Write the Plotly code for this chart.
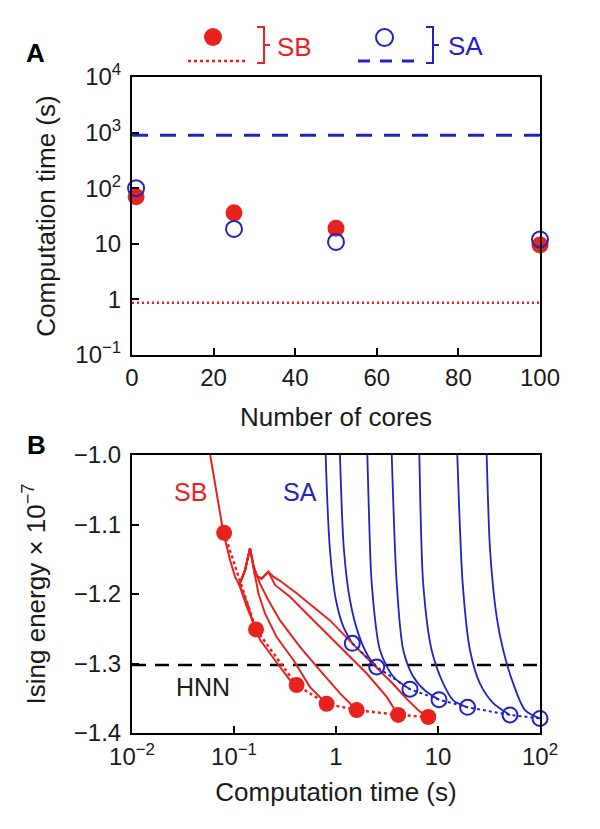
import plotly.graph_objects as go

# ---------------- Panel A data ----------------
cores = [1, 25, 50, 100]
sb_time = [70, 36, 19, 9.5]
sa_time = [100, 18.5, 10.8, 12]
sb_single_ref = 0.87      # dotted red level
sa_single_ref = 900       # dashed blue level
cores_span = [0, 100]

a_yvals = [0.1, 1, 10, 100, 1000, 10000]
a_ytext = ["10<sup>−1</sup>", "1", "10", "10<sup>2</sup>", "10<sup>3</sup>", "10<sup>4</sup>"]
a_xvals = [0, 20, 40, 60, 80, 100]

# ---------------- Panel B data ----------------
sb_dot_t = [0.080, 0.1644, 0.411, 0.809, 1.596, 4.07, 8.04]
sb_dot_e = [-1.112, -1.251, -1.331, -1.358, -1.367, -1.374, -1.377]

sa_dot_t = [1.445, 2.506, 5.31, 10.23, 19.5, 50.8, 100]
sa_dot_e = [-1.271, -1.305, -1.337, -1.352, -1.363, -1.374, -1.379]

hnn_level = -1.302
time_span = [0.01, 100]

# SB trunk (common early evolution)
sb_trunk_t = [0.0550, 0.0573, 0.0787, 0.0914, 0.1023, 0.1127]
sb_trunk_e = [-0.975, -0.993, -1.112, -1.151, -1.175, -1.187]

sb_curve2_t = [0.1127, 0.133, 0.1644]
sb_curve2_e = [-1.187, -1.218, -1.251]

sb_curve3_t = [0.1127, 0.1236, 0.1384, 0.1545, 0.1799, 0.2254, 0.2825, 0.354, 0.411]
sb_curve3_e = [-1.187, -1.199, -1.218, -1.242, -1.266, -1.286, -1.305, -1.324, -1.331]

sb_curve4_t = [0.1127, 0.1282, 0.1435, 0.157, 0.1734, 0.2014, 0.2618, 0.382, 0.556, 0.809]
sb_curve4_e = [-1.187, -1.166, -1.134, -1.166, -1.199, -1.228, -1.262, -1.295, -1.334, -1.358]

sb_curve5_t = [0.1127, 0.1282, 0.1435, 0.157, 0.1799, 0.2173, 0.2825, 0.4436, 0.6966, 1.094, 1.596]
sb_curve5_e = [-1.187, -1.166, -1.134, -1.161, -1.185, -1.209, -1.238, -1.276, -1.310, -1.343, -1.367]

sb_curve6_t = [0.1127, 0.1282, 0.1435, 0.1607, 0.1866, 0.2173, 0.2523, 0.354, 0.515, 0.809, 1.274, 1.995, 3.14, 4.07]
sb_curve6_e = [-1.187, -1.166, -1.134, -1.173, -1.178, -1.168, -1.187, -1.204, -1.228, -1.257, -1.286, -1.314, -1.348, -1.374]

sb_curve7_t = [0.1127, 0.1282, 0.1435, 0.1607, 0.1866, 0.2173, 0.243, 0.2825, 0.411, 0.60, 0.873, 1.445, 2.506, 3.55, 5.01, 6.61, 8.04]
sb_curve7_e = [-1.187, -1.166, -1.134, -1.173, -1.178, -1.168, -1.175, -1.181, -1.199, -1.218, -1.238, -1.271, -1.305, -1.328, -1.352, -1.369, -1.377]

sb_curves = [
    (sb_trunk_t, sb_trunk_e), (sb_curve2_t, sb_curve2_e), (sb_curve3_t, sb_curve3_e),
    (sb_curve4_t, sb_curve4_e), (sb_curve5_t, sb_curve5_e), (sb_curve6_t, sb_curve6_e),
    (sb_curve7_t, sb_curve7_e),
]

# SA curves
sa_curve1_t = [0.785, 0.792, 0.873, 1.0, 1.18, 1.445]
sa_curve1_e = [-0.97, -1.0, -1.137, -1.209, -1.247, -1.271]
sa_curve2_t = [1.085, 1.094, 1.197, 1.371, 1.656, 2.075, 2.506]
sa_curve2_e = [-0.97, -1.0, -1.137, -1.209, -1.257, -1.290, -1.305]
sa_curve3_t = [2.01, 2.03, 2.11, 2.24, 2.70, 3.65, 5.31]
sa_curve3_e = [-0.97, -1.0, -1.09, -1.185, -1.281, -1.319, -1.337]
sa_curve4_t = [3.48, 3.52, 3.94, 4.57, 5.73, 7.6, 10.23]
sa_curve4_e = [-0.97, -1.0, -1.185, -1.281, -1.319, -1.340, -1.352]
sa_curve5_t = [6.48, 6.56, 7.16, 8.67, 11.27, 14.1, 19.5]
sa_curve5_e = [-0.97, -1.0, -1.185, -1.281, -1.329, -1.353, -1.363]
sa_curve6_t = [15.2, 15.45, 17.46, 20.6, 25.8, 34.8, 50.8]
sa_curve6_e = [-0.97, -1.0, -1.185, -1.281, -1.329, -1.357, -1.374]
sa_curve7_t = [29.6, 30.0, 32.4, 37.6, 43.6, 54.7, 71.3, 100]
sa_curve7_e = [-0.97, -1.0, -1.137, -1.233, -1.281, -1.329, -1.367, -1.379]

sa_curves = [
    (sa_curve1_t, sa_curve1_e), (sa_curve2_t, sa_curve2_e), (sa_curve3_t, sa_curve3_e),
    (sa_curve4_t, sa_curve4_e), (sa_curve5_t, sa_curve5_e), (sa_curve6_t, sa_curve6_e),
    (sa_curve7_t, sa_curve7_e),
]

b_xvals = [0.01, 0.1, 1, 10, 100]
b_xtext = ["10<sup>−2</sup>", "10<sup>−1</sup>", "1", "10", "10<sup>2</sup>"]
b_yvals = [-1.4, -1.3, -1.2, -1.1, -1.0]
b_ytext = ["−1.4", "−1.3", "−1.2", "−1.1", "−1.0"]

RED = "#e8231e"
BLUE = "#1f23c4"
INK = "#1a1a1a"
FONT = "Liberation Sans, Arial, sans-serif"
TICK_SIZE = 24
TITLE_SIZE = 26

fig = go.Figure()

# ---- Panel A traces ----
fig.add_trace(go.Scatter(x=cores_span, y=[sa_single_ref] * 2, mode="lines",
                         line=dict(color=BLUE, width=3, dash="16px,12px"),
                         xaxis="x", yaxis="y", showlegend=False))
fig.add_trace(go.Scatter(x=cores_span, y=[sb_single_ref] * 2, mode="lines",
                         line=dict(color=RED, width=2.5, dash="2px,3px"),
                         xaxis="x", yaxis="y", showlegend=False))
fig.add_trace(go.Scatter(x=cores, y=sb_time, mode="markers",
                         marker=dict(color=RED, size=17, line=dict(width=0)),
                         cliponaxis=False, xaxis="x", yaxis="y", showlegend=False))
fig.add_trace(go.Scatter(x=cores, y=sa_time, mode="markers",
                         marker=dict(color=BLUE, size=16, symbol="circle-open",
                                     line=dict(color=BLUE, width=2)),
                         cliponaxis=False, xaxis="x", yaxis="y", showlegend=False))

# ---- Panel B traces ----
fig.add_trace(go.Scatter(x=time_span, y=[hnn_level] * 2, mode="lines",
                         line=dict(color="black", width=2.5, dash="14px,9px"),
                         xaxis="x2", yaxis="y2", showlegend=False))
for t, e in sa_curves:
    fig.add_trace(go.Scatter(x=t, y=e, mode="lines",
                             line=dict(color=BLUE, width=1.8, shape="spline", smoothing=0.8),
                             xaxis="x2", yaxis="y2", showlegend=False))
for t, e in sb_curves:
    fig.add_trace(go.Scatter(x=t, y=e, mode="lines",
                             line=dict(color=RED, width=2),
                             xaxis="x2", yaxis="y2", showlegend=False))
fig.add_trace(go.Scatter(x=sa_dot_t, y=sa_dot_e, mode="lines+markers",
                         line=dict(color=BLUE, width=2, dash="dot"),
                         marker=dict(color=BLUE, size=15, symbol="circle-open",
                                     line=dict(color=BLUE, width=2)),
                         cliponaxis=False, xaxis="x2", yaxis="y2", showlegend=False))
fig.add_trace(go.Scatter(x=sb_dot_t, y=sb_dot_e, mode="lines+markers",
                         line=dict(color=RED, width=2.5, dash="dot"),
                         marker=dict(color=RED, size=16, line=dict(width=0)),
                         cliponaxis=False, xaxis="x2", yaxis="y2", showlegend=False))

axis_common = dict(showline=True, linecolor="black", linewidth=2, mirror=True,
                   ticks="inside", ticklen=7, tickwidth=2, tickcolor="black",
                   showgrid=False, zeroline=False,
                   tickfont=dict(family=FONT, size=TICK_SIZE, color=INK))

# the page body adds an 8px margin; lay out in reference pixel coordinates
OFF = 8
W, H = 600 - 2 * OFF, 829 - 2 * OFF
PL, PR, PT, PB = 132, 540, 77, 733          # plot frame in reference pixels
L, R, T, B = PL - OFF, W - (PR - OFF), PT - OFF, H - (PB - OFF)
ph = PB - PT


def py(y):
    return (PB - y) / ph


def px(x):
    return (x - PL) / (PR - PL)


fig.update_layout(
    width=W, height=H,
    margin=dict(l=L, r=R, t=T, b=B, pad=0),
    plot_bgcolor="white", paper_bgcolor="white",
    font=dict(family=FONT, color=INK),
    xaxis=dict(axis_common, domain=[0, 1], anchor="y", range=[0, 100],
               tickvals=a_xvals, ticklabelstandoff=0,
               title=dict(text="Number of cores", font=dict(size=TITLE_SIZE), standoff=18)),
    yaxis=dict(axis_common, domain=[py(355), 1], anchor="x", type="log", range=[-1, 4],
               tickvals=a_yvals, ticktext=a_ytext, ticklabelstandoff=4,
               title=dict(text="Computation time (s)", font=dict(size=TITLE_SIZE), standoff=12)),
    xaxis2=dict(axis_common, domain=[0, 1], anchor="y2", type="log", range=[-2, 2],
                tickvals=b_xvals, ticktext=b_xtext, ticklabelstandoff=1,
                title=dict(text="Computation time (s)", font=dict(size=TITLE_SIZE), standoff=14)),
    yaxis2=dict(axis_common, domain=[0, py(455)], anchor="x2", range=[-1.4, -1.0],
                tickvals=b_yvals, ticktext=b_ytext, ticklabelstandoff=4,
                title=dict(text="Ising energy × 10<sup>−7</sup>", font=dict(size=TITLE_SIZE), standoff=21)),
)


def ann(text, x, y, size, color, bold=False):
    return dict(text=f"<b>{text}</b>" if bold else text, x=px(x), y=py(y),
                xref="paper", yref="paper", xanchor="center", yanchor="middle",
                showarrow=False, font=dict(size=size, color=color))


annotations = [
    ann("A", 35, 53, 26, "black", bold=True),
    ann("B", 36, 445, 26, "black", bold=True),
    ann("SB", 294, 47, 26, RED),
    ann("SA", 465, 46, 26, BLUE),
    ann("SB", 190, 492, 25, RED),
    ann("SA", 300, 492, 25, BLUE),
    ann("HNN", 203, 687, 25, INK),
]
fig.update_layout(annotations=annotations)

shapes = []
# legend glyphs (paper coords)
shapes.append(dict(type="circle", xref="paper", yref="paper", x0=px(204), x1=px(222),
                   y0=py(46), y1=py(28), fillcolor=RED, line=dict(width=0)))
shapes.append(dict(type="line", xref="paper", yref="paper", x0=px(188), x1=px(247),
                   y0=py(61), y1=py(61), line=dict(color=RED, width=2.5, dash="dot")))
shapes.append(dict(type="circle", xref="paper", yref="paper", x0=px(376), x1=px(393),
                   y0=py(46), y1=py(29), line=dict(color=BLUE, width=2)))
shapes.append(dict(type="line", xref="paper", yref="paper", x0=px(358), x1=px(416),
                   y0=py(61), y1=py(61), line=dict(color=BLUE, width=3, dash="12px,10px")))
for bx, col in [(264, RED), (433, BLUE)]:
    path = (f"M {px(bx-7)},{py(27)} L {px(bx)},{py(27)} L {px(bx)},{py(63)} L {px(bx-7)},{py(63)} "
            f"M {px(bx)},{py(45)} L {px(bx+6)},{py(45)}")
    shapes.append(dict(type="path", xref="paper", yref="paper", path=path,
                       line=dict(color=col, width=2)))
fig.update_layout(shapes=shapes)

fig.write_html("out.html")
